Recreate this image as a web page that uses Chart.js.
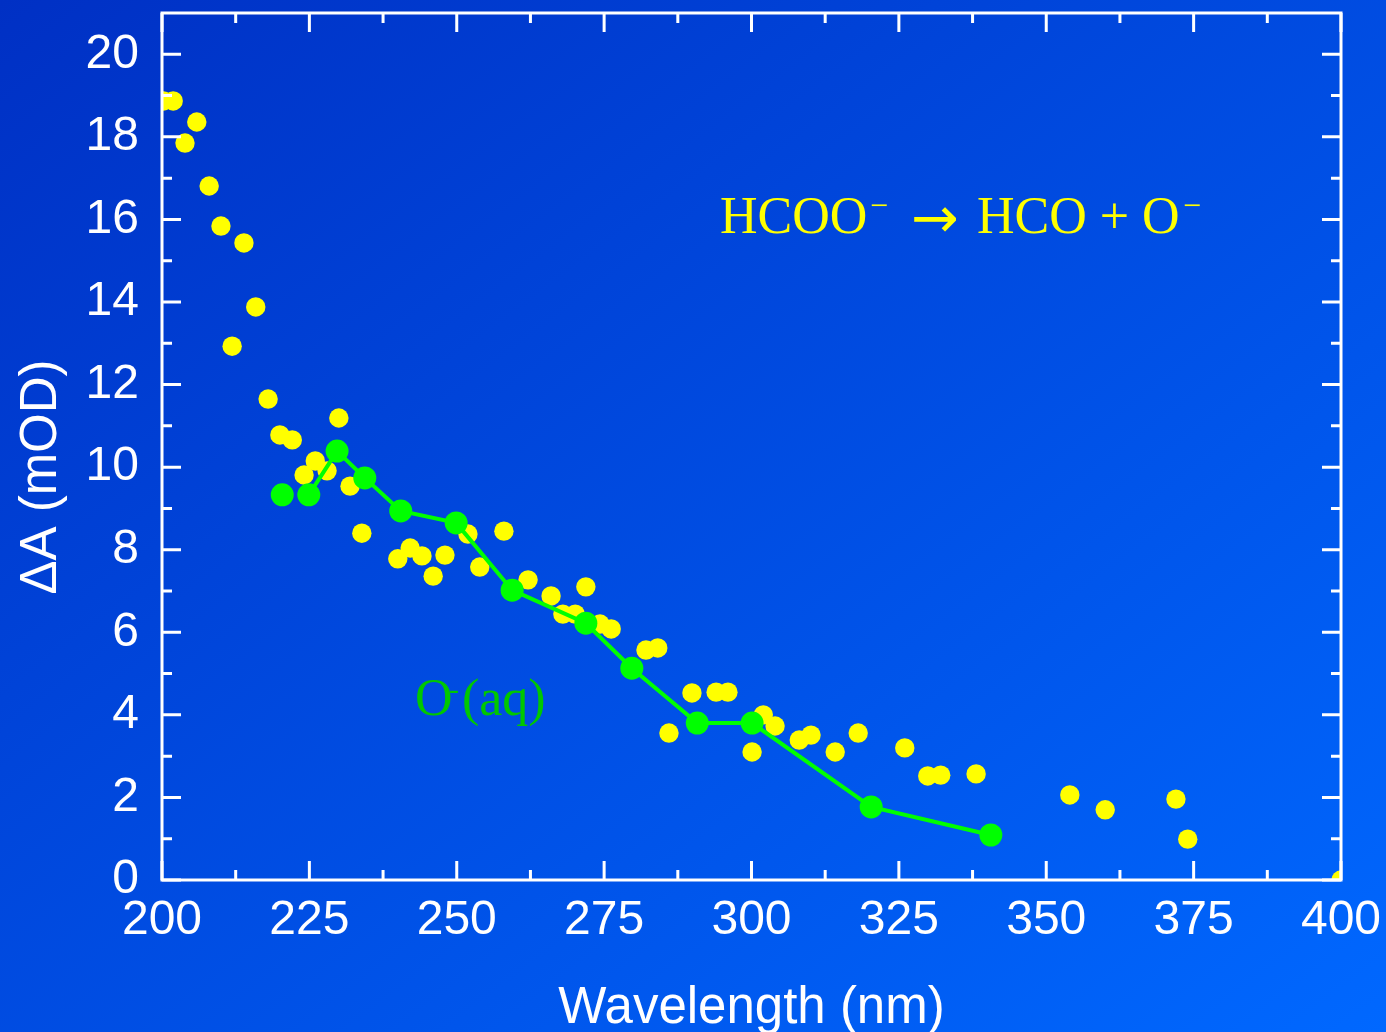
<!DOCTYPE html>
<html>
<head>
<meta charset="utf-8">
<script src="https://cdn.jsdelivr.net/npm/chart.js@4.4.1/dist/chart.umd.min.js"></script>
<style>
  html, body { margin: 0; padding: 0; }
  body {
    width: 1386px; height: 1032px; overflow: hidden;
    background: linear-gradient(to bottom right, #0030c4, #0068ff);
  }
</style>
</head>
<body>
<canvas id="chart" width="1386" height="1032"></canvas>
<script>
// axis ranges and tick marks
const X_MIN = 200, X_MAX = 400;
const Y_MIN = 0, Y_MAX = 21;
const X_TICKS = [200, 225, 250, 275, 300, 325, 350, 375, 400];
const X_MINOR = [212.5, 237.5, 262.5, 287.5, 312.5, 337.5, 362.5, 387.5];
const Y_TICKS = [0, 2, 4, 6, 8, 10, 12, 14, 16, 18, 20];
const Y_MINOR = [1, 3, 5, 7, 9, 11, 13, 15, 17, 19];

// HCOO- photolysis transient (yellow dots)
const formateX = [200.25, 201.9, 203.9, 205.9, 208.0, 210.0, 211.9, 213.9, 215.9, 218.0,
  220.0, 222.1, 224.1, 226.0, 228.0, 230.0, 231.9, 233.9, 240.0, 242.1,
  244.1, 246.0, 248.0, 251.9, 253.9, 258.0, 262.1, 266.0, 268.0, 270.1,
  271.9, 274.3, 276.2, 282.1, 284.1, 286.0, 289.9, 294.0, 296.0, 300.1,
  302.0, 304.0, 308.1, 310.1, 314.2, 318.1, 326.0, 329.9, 332.1, 338.1,
  354.0, 360.0, 372.0, 374.0, 400.0];
const formateY = [18.87, 18.87, 17.85, 18.36, 16.81, 15.84, 12.93, 15.43, 13.88, 11.65,
  10.78, 10.66, 9.81, 10.15, 9.91, 11.19, 9.54, 8.40, 7.78, 8.04,
  7.85, 7.36, 7.87, 8.38, 7.58, 8.45, 7.27, 6.88, 6.44, 6.44,
  7.10, 6.20, 6.08, 5.57, 5.62, 3.56, 4.53, 4.55, 4.55, 3.10,
  4.00, 3.73, 3.39, 3.51, 3.10, 3.56, 3.20, 2.52, 2.54, 2.57,
  2.06, 1.70, 1.96, 0.99, 0.0];

// O-(aq) reference spectrum (green)
const oxygenX = [220.4, 224.9, 229.7, 234.4, 240.5, 249.9, 259.4, 271.9, 279.7, 290.8, 300.1, 320.3, 340.6];
const oxygenY = [9.33, 9.33, 10.39, 9.74, 8.94, 8.65, 7.02, 6.22, 5.13, 3.80, 3.80, 1.77, 1.09];

const YELLOW = '#ffff00';
const GREEN = '#00ff00';
const GREEN_TEXT = '#00c800';
const SANS = '"Liberation Sans", Arial, sans-serif';
const SERIF = '"Liberation Serif", "Times New Roman", serif';

const toPoints = (xs, ys) => xs.map((x, i) => ({ x: x, y: ys[i] }));

// frame with inward ticks, y title and the two annotations
const framePlugin = {
  id: 'frame',
  afterDatasetsDraw(chart) {
    const { ctx, chartArea: a, scales: { x, y } } = chart;
    ctx.save();
    ctx.strokeStyle = '#ffffff';
    ctx.lineWidth = 3;
    ctx.lineCap = 'butt';
    ctx.strokeRect(a.left, a.top, a.right - a.left, a.bottom - a.top);

    ctx.beginPath();
    const xTick = (v, len) => {
      const px = x.getPixelForValue(v);
      ctx.moveTo(px, a.bottom); ctx.lineTo(px, a.bottom - len);
      ctx.moveTo(px, a.top); ctx.lineTo(px, a.top + len);
    };
    const yTick = (v, len) => {
      const py = y.getPixelForValue(v);
      ctx.moveTo(a.left, py); ctx.lineTo(a.left + len, py);
      ctx.moveTo(a.right, py); ctx.lineTo(a.right - len, py);
    };
    X_TICKS.forEach(v => xTick(v, 19));
    X_MINOR.forEach(v => xTick(v, 10));
    Y_TICKS.forEach(v => yTick(v, 19));
    Y_MINOR.forEach(v => yTick(v, 10));
    ctx.stroke();

    // y axis title
    ctx.save();
    ctx.translate(42, 477);
    ctx.rotate(-Math.PI / 2);
    ctx.fillStyle = '#ffffff';
    ctx.font = '51px ' + SANS;
    ctx.textAlign = 'center';
    ctx.textBaseline = 'middle';
    ctx.fillText('\u0394A (mOD)', 0, 0);
    ctx.restore();

    // reaction label
    ctx.textBaseline = 'alphabetic';
    ctx.textAlign = 'left';
    ctx.fillStyle = YELLOW;
    let bx = x.getPixelForValue(294.65);
    let by = y.getPixelForValue(15.67);
    ctx.font = '52px ' + SERIF;
    ctx.fillText('HCOO', bx, by);
    ctx.fillText('HCO + O', bx + 257, by);
    ctx.font = '32px ' + SERIF;
    ctx.fillText('\u2212', bx + 150, by - 17);
    ctx.fillText('\u2212', bx + 463, by - 17);
    ctx.font = '57px "DejaVu Sans"';
    ctx.fillText('\u2192', bx + 191, by + 4);

    // O-(aq) label
    ctx.fillStyle = GREEN_TEXT;
    bx = x.getPixelForValue(242.9);
    by = y.getPixelForValue(4.0);
    ctx.font = '52px ' + SERIF;
    ctx.fillText('O', bx, by);
    ctx.fillText('(aq)', bx + 47, by);
    ctx.font = '30px ' + SERIF;
    ctx.fillText('-', bx + 34, by - 16);
    ctx.restore();
  }
};

new Chart(document.getElementById('chart'), {
  type: 'scatter',
  data: {
    datasets: [
      {
        label: 'O-(aq)',
        data: toPoints(oxygenX, oxygenY),
        showLine: true,
        borderColor: GREEN,
        borderWidth: 4,
        pointBackgroundColor: GREEN,
        pointBorderWidth: 0,
        pointRadius: 11.5,
        segment: { borderColor: c => c.p0DataIndex === 0 ? 'rgba(0,0,0,0)' : GREEN },
        order: 0
      },
      {
        label: 'HCOO-',
        data: toPoints(formateX, formateY),
        pointBackgroundColor: YELLOW,
        pointBorderWidth: 0,
        pointRadius: 9.7,
        clip: 0,
        order: 1
      }
    ]
  },
  options: {
    responsive: false,
    animation: false,
    layout: { padding: { top: 13, right: 45, left: 0, bottom: 0 } },
    plugins: { legend: { display: false }, tooltip: { enabled: false } },
    scales: {
      x: {
        type: 'linear',
        min: X_MIN, max: X_MAX,
        afterBuildTicks: s => { s.ticks = X_TICKS.map(v => ({ value: v })); },
        afterFit: s => { s.height = 152; s.paddingLeft = 0; s.paddingRight = 0; },
        grid: { display: false, drawTicks: false },
        border: { display: false },
        ticks: { color: '#ffffff', font: { family: SANS, size: 48 }, padding: 12, maxRotation: 0, autoSkip: false },
        title: {
          display: true, text: 'Wavelength (nm)', color: '#ffffff',
          font: { family: SANS, size: 51, lineHeight: 0.9 }, padding: 0
        }
      },
      y: {
        type: 'linear',
        min: Y_MIN, max: Y_MAX,
        afterBuildTicks: s => { s.ticks = Y_TICKS.map(v => ({ value: v })); },
        afterFit: s => { s.width = 162; s.paddingTop = 0; s.paddingBottom = 0; },
        grid: { display: false, drawTicks: false },
        border: { display: false },
        ticks: { color: '#ffffff', font: { family: SANS, size: 48 }, padding: 23, autoSkip: false }
      }
    }
  },
  plugins: [framePlugin]
});
</script>
</body>
</html>
